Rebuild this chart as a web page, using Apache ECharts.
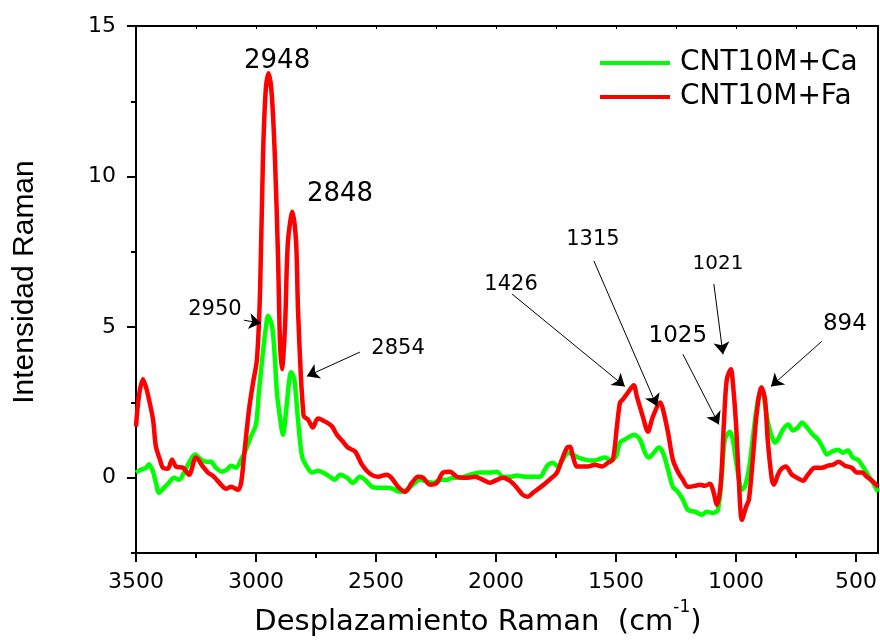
<!DOCTYPE html>
<html>
<head>
<meta charset="utf-8">
<script src="https://cdn.jsdelivr.net/npm/echarts@6/dist/echarts.min.js"></script>
<style>
  html, body { margin: 0; padding: 0; background: #fff; }
  #chart { width: 880px; height: 641px; }
</style>
</head>
<body>
<div id="chart"></div>
<script>
// Raman spectra: wavenumber (cm-1) and intensity for each sample
const caShift = [3500,3479,3458,3446,3429,3417,3404,3383,3363,3342,3321,3300,3279,3254,3229,3208,3188,3167,3142,3121,3104,3083,3062,3042,3021,3000,2988,2971,2958,2950,2933,2921,2913,2900,2888,2871,2862,2854,2840,2825,2808,2788,2767,2742,2721,2692,2671,2650,2621,2596,2567,2546,2517,2492,2454,2429,2400,2371,2346,2317,2288,2263,2233,2204,2179,2150,2108,2067,2025,1996,1971,1942,1913,1871,1817,1796,1783,1763,1742,1721,1700,1679,1658,1629,1600,1575,1546,1525,1500,1483,1463,1442,1425,1400,1379,1363,1338,1321,1304,1283,1263,1242,1221,1200,1171,1142,1121,1096,1075,1058,1046,1025,1013,996,975,963,946,929,908,892,871,858,850,838,825,804,783,763,742,725,704,679,658,638,621,600,575,554,533,513,492,471,450,429,408];
const caIntensity = [0.17,0.27,0.33,0.45,0.2,-0.17,-0.5,-0.33,-0.17,0,-0.07,0.17,0.5,0.77,0.6,0.53,0.53,0.33,0.2,0.27,0.4,0.33,0.6,0.93,1.37,1.77,2.83,4.17,5.03,5.37,5.03,3.93,2.83,2.0,1.43,2.5,3.2,3.5,3.25,1.93,0.7,0.37,0.17,0.23,0.17,0.03,-0.07,0.1,0,-0.17,0.03,-0.07,-0.3,-0.33,-0.33,-0.37,-0.47,-0.4,-0.23,-0.07,-0.13,-0.17,-0.07,-0.07,0,0,0.1,0.17,0.17,0.2,0.03,0.03,0.07,0.03,0.03,0.27,0.43,0.5,0.37,0.6,0.83,0.77,0.67,0.6,0.57,0.6,0.67,0.6,0.7,1.17,1.27,1.37,1.43,1.27,0.83,0.67,0.87,1.0,0.83,0.27,-0.3,-0.47,-0.73,-1.07,-1.13,-1.23,-1.13,-1.17,-1.07,0.17,1.27,1.53,1.27,0.37,-0.4,-0.3,0.27,1.37,2.6,2.93,2.03,1.55,1.35,1.17,1.27,1.6,1.77,1.57,1.67,1.83,1.67,1.43,1.27,1.0,0.77,0.87,0.93,0.83,0.9,0.67,0.6,0.37,0.1,-0.17,-0.47];

const faShift = [3500,3488,3471,3458,3446,3429,3417,3400,3388,3367,3350,3333,3304,3279,3250,3221,3200,3175,3146,3125,3104,3075,3062,3050,3029,3012,2996,2983,2971,2960,2948,2935,2921,2908,2900,2892,2879,2867,2848,2833,2825,2813,2804,2800,2783,2763,2742,2704,2683,2663,2638,2617,2587,2558,2525,2492,2454,2433,2408,2379,2350,2325,2304,2275,2246,2221,2192,2163,2138,2117,2088,2054,2025,1996,1971,1942,1913,1888,1867,1846,1817,1796,1767,1746,1725,1704,1692,1679,1663,1642,1617,1588,1558,1533,1513,1496,1483,1471,1450,1426,1413,1388,1367,1346,1315,1304,1283,1263,1242,1221,1200,1171,1150,1129,1108,1096,1079,1063,1050,1038,1021,1013,1000,988,975,958,946,929,913,894,879,867,850,842,825,813,792,767,746,721,700,671,642,617,596,571,546,517,496,475,454,429,408];
const faIntensity = [1.7,2.7,3.27,3.0,2.6,1.93,1.03,0.6,0.33,0.3,0.6,0.37,0.33,0.1,0.67,0.37,0.17,0.03,-0.23,-0.37,-0.3,-0.4,-0.17,0.7,2.27,3.17,3.93,6.2,10.6,12.8,13.43,12.8,10.6,7.27,4.5,3.6,5.03,7.83,8.83,7.83,5.6,3.37,2.27,2.03,1.93,1.67,1.97,1.83,1.7,1.43,1.2,1.0,0.87,0.43,0.13,0.03,0.1,-0.03,-0.3,-0.47,-0.17,0.03,0,-0.23,-0.17,0.17,0.2,0.03,0,0,0.03,-0.07,-0.17,-0.07,0,-0.1,-0.33,-0.57,-0.63,-0.5,-0.33,-0.2,0,0.17,0.6,1.0,1.03,0.7,0.37,0.37,0.37,0.43,0.37,0.5,0.6,1.7,2.5,2.6,2.83,3.07,2.7,2.03,1.53,2.03,2.5,2.27,1.5,0.6,0.2,-0.07,-0.3,-0.27,-0.23,-0.27,-0.2,-0.4,-0.9,-0.17,1.83,3.27,3.6,3.17,1.83,-0.07,-1.4,-0.97,-0.73,0.7,2.17,3.0,2.6,1.2,-0.07,-0.23,0.1,0.27,0.37,0.1,0,-0.1,0.1,0.33,0.33,0.4,0.43,0.53,0.4,0.33,0.17,0.17,0.03,-0.13,-0.3];

const seriesNames = ['CNT10M+Ca', 'CNT10M+Fa'];
const seriesColors = ['#00ff00', '#ff0000'];

// Axis ticks (wavenumber and intensity)
const xMajorTicks = [500, 1000, 1500, 2000, 2500, 3000, 3500];
const xMinorTicks = [750, 1250, 1750, 2250, 2750, 3250];
const xTopTicks = [500, 750, 1000, 1250, 1500, 1750, 2000, 2250, 2500, 2750, 3000, 3250, 3500];
const yMajorTicks = [0, 5, 10, 15];
const yMinorTicks = [-2.5, 2.5, 7.5, 12.5];

// Peak annotations: label text and its anchor, plus optional arrow (from -> to), in data units
const peakNotes = [
  { text: '2948', at: [2912, 13.83], size: 26 },
  { text: '2848', at: [2650, 9.4], size: 26 },
  { text: '2950', at: [3171, 5.57], size: 21, from: [3050, 5.23], to: [2979, 5.13] },
  { text: '2854', at: [2408, 4.3], size: 21, from: [2567, 4.17], to: [2788, 3.37] },
  { text: '1426', at: [1937, 6.43], size: 21, from: [1933, 6.1], to: [1463, 3.03] },
  { text: '1315', at: [1596, 7.9], size: 21, from: [1592, 7.2], to: [1329, 2.37] },
  { text: '1021', at: [1075, 7.1], size: 20, from: [1092, 6.43], to: [1054, 4.1] },
  { text: '1025', at: [1242, 4.7], size: 23, from: [1221, 4.1], to: [1071, 1.77] },
  { text: '894', at: [546, 5.1], size: 23, from: [642, 4.53], to: [854, 3.03] }
];

const zip = (xs, ys) => xs.map((x, i) => [x, ys[i]]);

const FONT = 'DejaVu Sans';
const X_MIN = 408, X_MAX = 3500, Y_MIN = -2.5, Y_MAX = 15;
const plain = v => String(v);
const axisPen = { color: '#000', width: 2 };

const chart = echarts.init(document.getElementById('chart'), null, { renderer: 'canvas' });

const baseX = { type: 'value', min: X_MIN, max: X_MAX, inverse: true, splitLine: { show: false } };
const baseY = { type: 'value', min: Y_MIN, max: Y_MAX, splitLine: { show: false } };

chart.setOption({
  animation: false,
  backgroundColor: '#ffffff',
  grid: { left: 136, right: 2, top: 26, bottom: 88, containLabel: false },
  legend: {
    data: seriesNames,
    orient: 'vertical',
    left: 600,
    top: 48,
    padding: 0,
    itemGap: 4,
    itemWidth: 70,
    itemHeight: 4,
    icon: 'rect',
    textStyle: { fontFamily: FONT, fontSize: 28, color: '#000', lineHeight: 30, padding: [0, 0, 0, 5] }
  },
  xAxis: [
    Object.assign({}, baseX, {
      position: 'bottom',
      axisLine: { show: true, onZero: false, lineStyle: axisPen },
      axisTick: { show: true, inside: false, length: 9, lineStyle: axisPen, customValues: xMajorTicks },
      axisLabel: { show: true, customValues: xMajorTicks, formatter: plain, margin: 18, fontFamily: FONT, fontSize: 22, color: '#000' }
    }),
    Object.assign({}, baseX, {
      position: 'bottom',
      axisLine: { show: false, onZero: false },
      axisTick: { show: true, inside: false, length: 5, lineStyle: axisPen, customValues: xMinorTicks },
      axisLabel: { show: false }
    }),
    Object.assign({}, baseX, {
      position: 'top',
      axisLine: { show: true, onZero: false, lineStyle: axisPen },
      axisTick: { show: true, inside: true, length: 3, lineStyle: { color: '#000', width: 1 }, customValues: xTopTicks },
      axisLabel: { show: false }
    })
  ],
  yAxis: [
    Object.assign({}, baseY, {
      position: 'left',
      axisLine: { show: true, onZero: false, lineStyle: axisPen },
      axisTick: { show: true, inside: false, length: 9, lineStyle: axisPen, customValues: yMajorTicks },
      axisLabel: { show: true, customValues: yMajorTicks, formatter: plain, margin: 20, fontFamily: FONT, fontSize: 22, color: '#000' }
    }),
    Object.assign({}, baseY, {
      position: 'left',
      axisLine: { show: false, onZero: false },
      axisTick: { show: true, inside: false, length: 5, lineStyle: axisPen, customValues: yMinorTicks },
      axisLabel: { show: false }
    }),
    Object.assign({}, baseY, {
      position: 'right',
      axisLine: { show: true, onZero: false, lineStyle: axisPen },
      axisTick: { show: false },
      axisLabel: { show: false }
    })
  ],
  series: [
    {
      name: seriesNames[0],
      type: 'line',
      data: zip(caShift, caIntensity),
      showSymbol: false,
      symbol: 'none',
      smooth: 0.3,
      lineStyle: { color: seriesColors[0], width: 4.5 },
      itemStyle: { color: seriesColors[0] },
      z: 2
    },
    {
      name: seriesNames[1],
      type: 'line',
      data: zip(faShift, faIntensity),
      showSymbol: false,
      symbol: 'none',
      smooth: 0.3,
      lineStyle: { color: seriesColors[1], width: 4.5 },
      itemStyle: { color: seriesColors[1] },
      z: 3,
      markLine: {
        silent: true,
        symbol: ['none', 'arrow'],
        symbolSize: 12,
        label: { show: false },
        lineStyle: { color: '#000', width: 1, type: 'solid' },
        itemStyle: { color: '#000' },
        emphasis: { disabled: true },
        data: peakNotes.filter(n => n.from).map(n => [{ coord: n.from }, { coord: n.to }])
      },
      markPoint: {
        silent: true,
        symbol: 'circle',
        symbolSize: 0,
        data: peakNotes.map(n => ({
          name: n.text,
          coord: n.at,
          label: { show: true, position: 'inside', formatter: '{b}', fontFamily: FONT, fontSize: n.size, color: '#000' }
        }))
      }
    }
  ],
  graphic: [
    {
      type: 'text',
      x: 25,
      y: 282,
      rotation: Math.PI / 2,
      style: {
        text: 'Intensidad Raman',
        fontFamily: 'Liberation Sans',
        fontSize: 30,
        fill: '#000',
        align: 'center',
        verticalAlign: 'middle'
      }
    },
    {
      type: 'text',
      x: 478,
      y: 622,
      style: {
        text: 'Desplazamiento Raman  (cm{sup|-1})',
        fontFamily: FONT,
        fontSize: 29,
        fill: '#000',
        align: 'center',
        verticalAlign: 'middle',
        lineHeight: 46,
        rich: {
          sup: { fontFamily: FONT, fontSize: 17, fill: '#000', verticalAlign: 'top', lineHeight: 18 }
        }
      }
    }
  ]
});
</script>
</body>
</html>
